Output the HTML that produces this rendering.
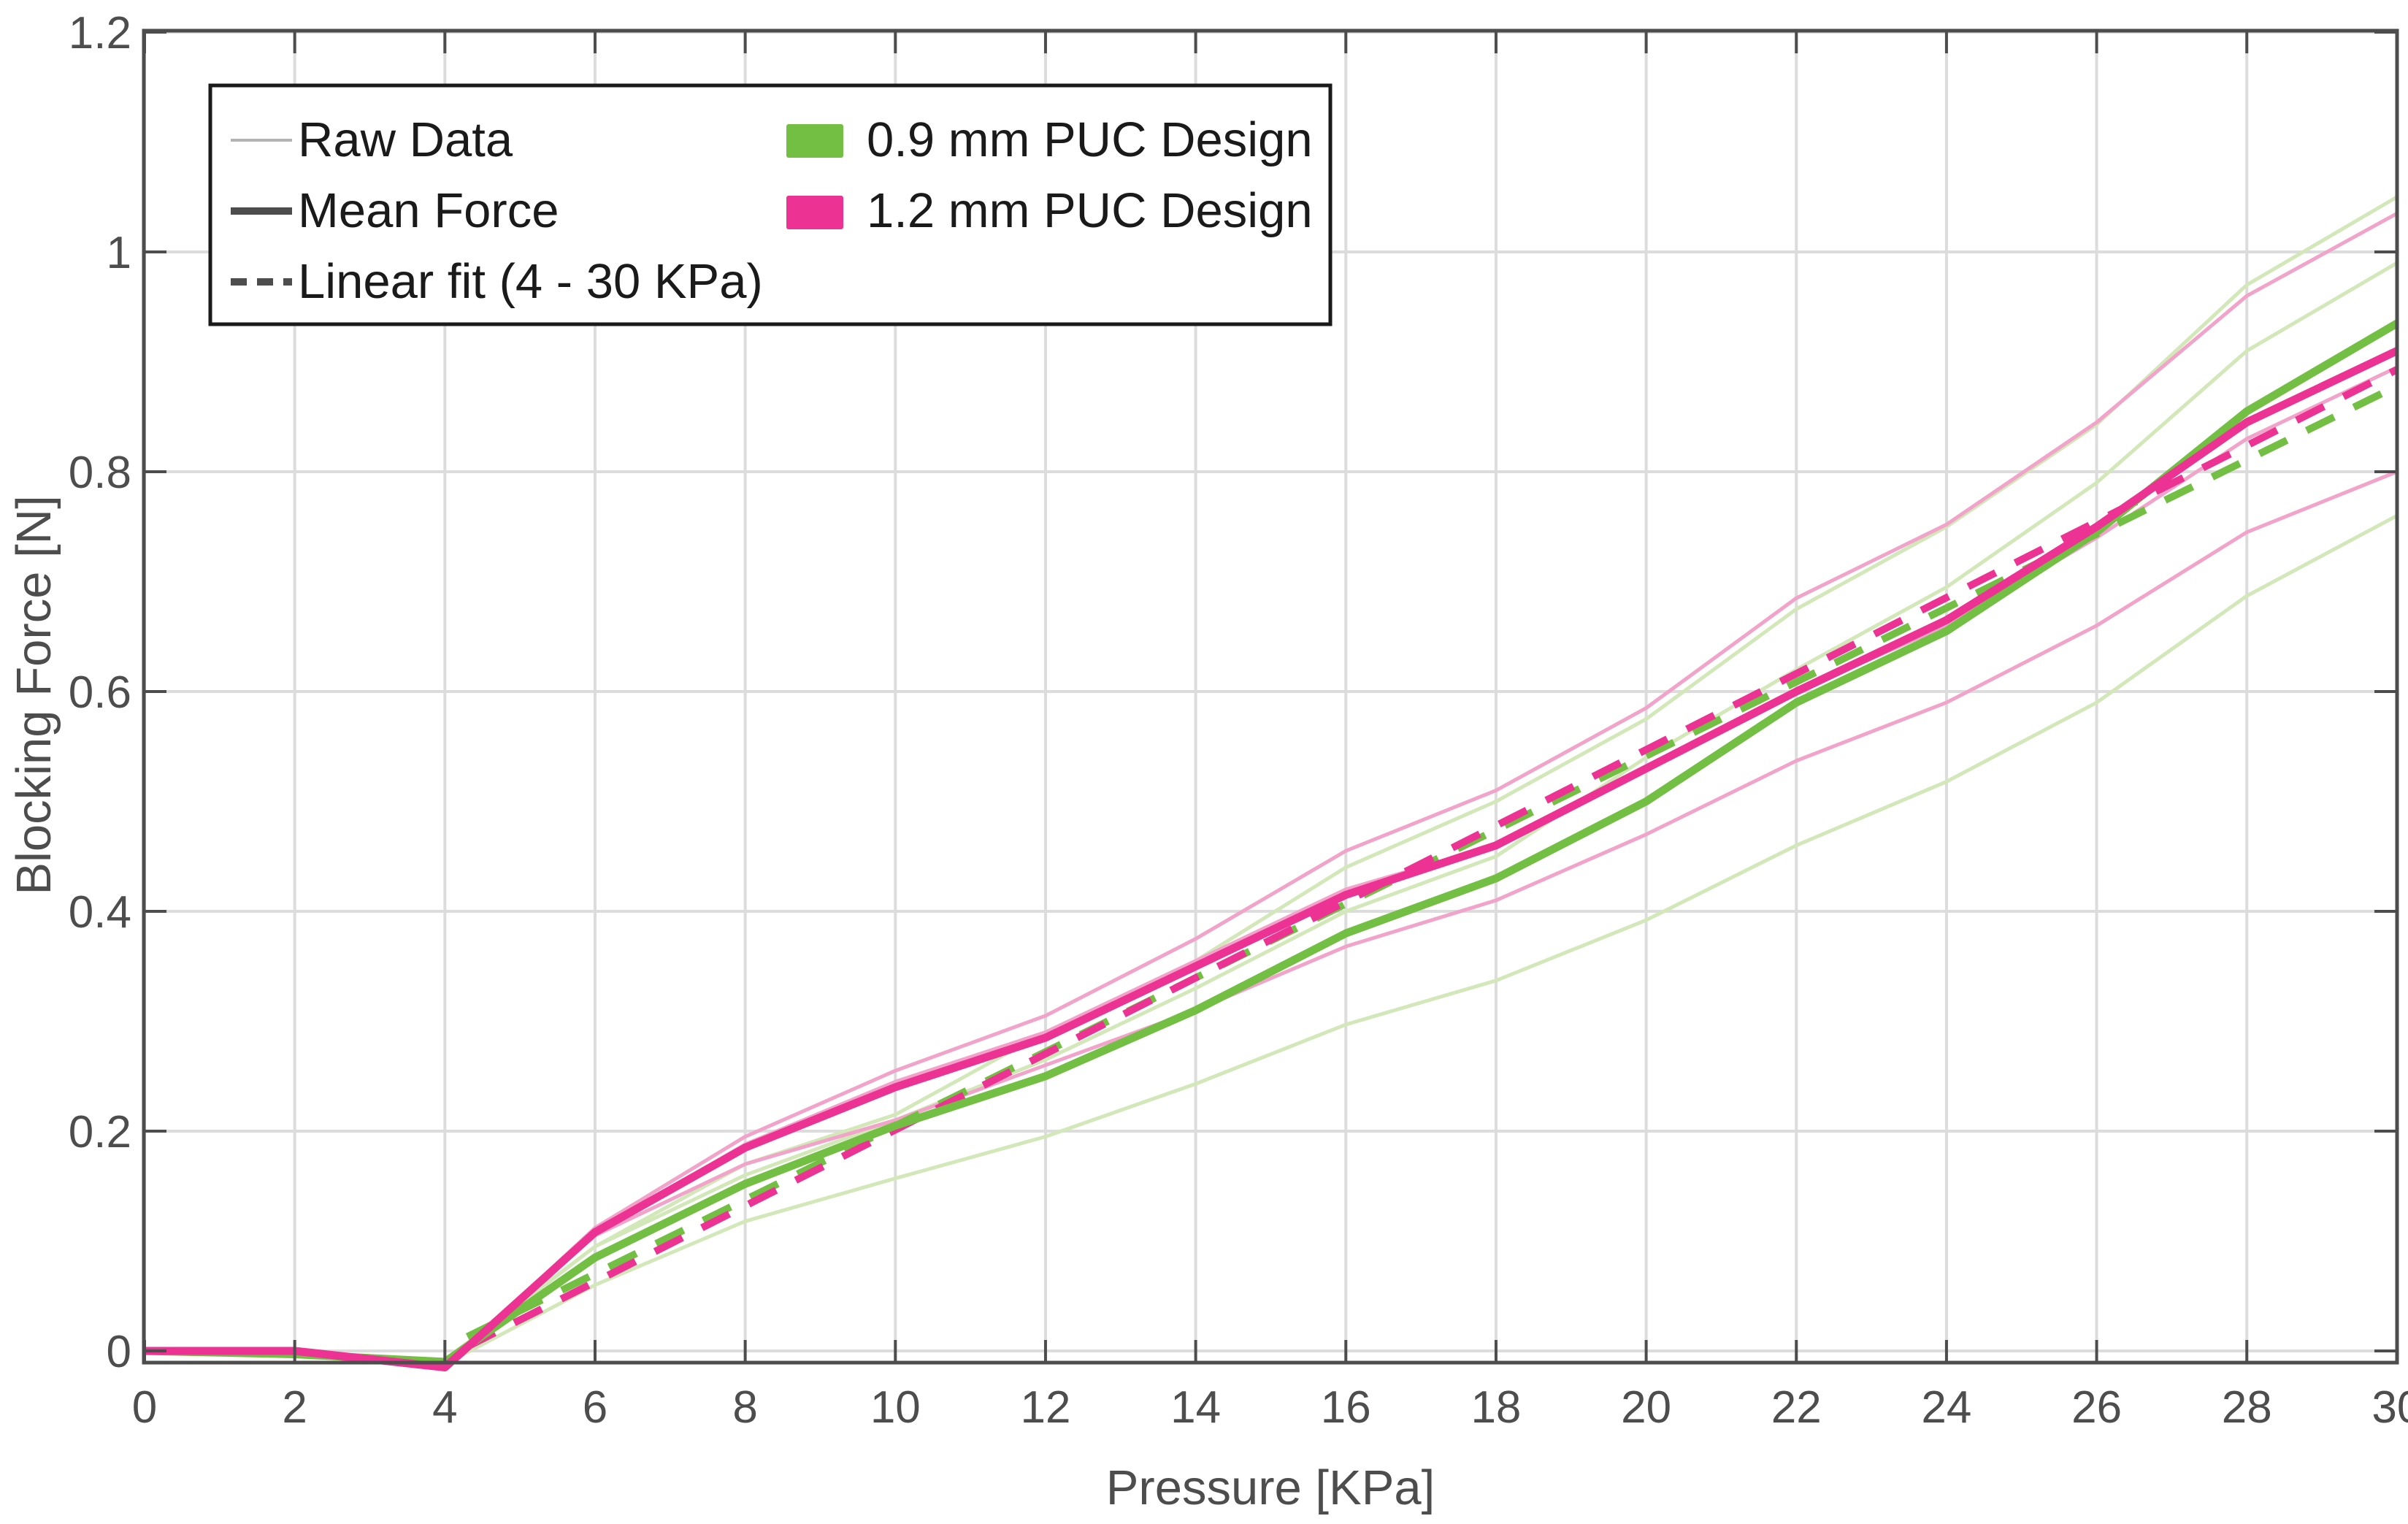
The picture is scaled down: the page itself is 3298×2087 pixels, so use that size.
<!DOCTYPE html>
<html><head><meta charset="utf-8"><style>
html,body{margin:0;padding:0;background:#fff;}
svg{display:block;font-family:"Liberation Sans",Arial,sans-serif;}
</style></head><body>
<svg id="chart" width="3298" height="2087" viewBox="0 0 3298 2087" xmlns="http://www.w3.org/2000/svg">
<rect x="0" y="0" width="3298" height="2087" fill="#fff"/>
<g id="grid"></g>
<g id="series"></g>
<g id="axes"></g>
<g id="legend">
<rect x="288" y="117" width="1534" height="327" fill="#fff" stroke="#1a1a1a" stroke-width="5"/>
<line x1="316" y1="192" x2="400" y2="192" stroke="#b3b3b3" stroke-width="4"/>
<text x="408" y="214" font-size="67" fill="#1a1a1a">Raw Data</text>
<line x1="316" y1="289" x2="400" y2="289" stroke="#4d4d4d" stroke-width="10"/>
<text x="408" y="311" font-size="67" fill="#1a1a1a">Mean Force</text>
<line x1="316" y1="386" x2="400" y2="386" stroke="#4d4d4d" stroke-width="10" stroke-dasharray="22,14"/>
<text x="408" y="408" font-size="67" fill="#1a1a1a">Linear fit (4 - 30 KPa)</text>
<rect x="1077" y="170" width="78" height="46" rx="3" fill="#72bf44"/>
<text x="1187" y="214" font-size="67" fill="#1a1a1a">0.9 mm PUC Design</text>
<rect x="1077" y="268" width="78" height="46" rx="3" fill="#ec3293"/>
<text x="1187" y="311" font-size="67" fill="#1a1a1a">1.2 mm PUC Design</text>
</g>
</svg>
<script>
const xVals = [0,2,4,6,8,10,12,14,16,18,20,22,24,26,28,30];
const greenRawA = [0,-0.002,-0.008,0.095,0.17,0.215,0.29,0.355,0.44,0.5,0.575,0.675,0.75,0.843,0.97,1.05];
const greenRawB = [0,-0.003,-0.01,0.095,0.16,0.21,0.265,0.33,0.4,0.45,0.54,0.62,0.695,0.79,0.91,0.99];
const greenRawC = [0,-0.005,-0.012,0.06,0.118,0.157,0.195,0.243,0.297,0.337,0.392,0.46,0.518,0.59,0.687,0.76];
const greenMean = [0,-0.003,-0.01,0.085,0.152,0.205,0.25,0.31,0.38,0.43,0.5,0.59,0.655,0.745,0.855,0.935];
const pinkRawA = [0,0,-0.015,0.112,0.195,0.255,0.305,0.375,0.455,0.51,0.585,0.685,0.752,0.845,0.96,1.035];
const pinkRawB = [0,0,-0.015,0.108,0.188,0.245,0.29,0.355,0.42,0.46,0.53,0.6,0.66,0.74,0.83,0.895];
const pinkRawC = [0,0,-0.015,0.105,0.17,0.21,0.26,0.31,0.368,0.41,0.47,0.537,0.59,0.66,0.745,0.8];
const pinkMean = [0,0,-0.015,0.108,0.185,0.24,0.285,0.35,0.415,0.46,0.53,0.6,0.665,0.75,0.845,0.91];
const fitX = [4.3,30];
const greenFit = [0.013,0.878];
const pinkFit = [0.004,0.893];
const xTicks = [0,2,4,6,8,10,12,14,16,18,20,22,24,26,28,30];
const yTicks = [0,0.2,0.4,0.6,0.8,1,1.2];
const yTickLabels = ["0","0.2","0.4","0.6","0.8","1","1.2"];

const NS="http://www.w3.org/2000/svg";
const L=197,R=3283,T=42,B=1866;
const X=v=>198+v*102.83;
const Y=v=>1850-v*1505;
function mk(tag,attrs,parent){const e=document.createElementNS(NS,tag);for(const k in attrs)e.setAttribute(k,attrs[k]);parent.appendChild(e);return e;}
const grid=document.getElementById('grid'),ser=document.getElementById('series'),ax=document.getElementById('axes');
xTicks.forEach(t=>{const g=mk('line',{x1:X(t),x2:X(t),y1:T,y2:B,stroke:'#dcdcdc','stroke-width':4},grid);

});
yTicks.forEach(t=>{const g=mk('line',{x1:L,x2:R,y1:Y(t),y2:Y(t),stroke:'#dcdcdc','stroke-width':4},grid);

});
function poly(xs,ys,color,w,dash,name){
  const pts=xs.map((x,i)=>X(x)+','+Y(ys[i])).join(' ');
  const p=mk('polyline',{points:pts,fill:'none',stroke:color,'stroke-width':w,'stroke-linejoin':'round'},ser);
  if(dash)p.setAttribute('stroke-dasharray',dash);
  
  
}
poly(xVals,greenRawA,'#d2e8b9',5,null,'green-raw-1');
poly(xVals,greenRawB,'#d2e8b9',5,null,'green-raw-2');
poly(xVals,greenRawC,'#d2e8b9',5,null,'green-raw-3');
poly(xVals,pinkRawA,'#f2a3c9',5,null,'pink-raw-1');
poly(xVals,pinkRawB,'#f2a3c9',5,null,'pink-raw-2');
poly(xVals,pinkRawC,'#f2a3c9',5,null,'pink-raw-3');
poly(fitX,greenFit,'#72bf44',10,'42,30','green-linear-fit');
poly(fitX,pinkFit,'#ec3293',10,'42,30','pink-linear-fit');
poly(xVals,greenMean,'#72bf44',11,null,'green-mean-force');
poly(xVals,pinkMean,'#ec3293',11,null,'pink-mean-force');
const box=mk('rect',{x:L,y:T,width:R-L,height:B-T,fill:'none',stroke:'#4d4d4d','stroke-width':5},ax);


xTicks.forEach((t,i)=>{
  mk('line',{x1:X(t),x2:X(t),y1:B,y2:B-31,stroke:'#4d4d4d','stroke-width':4},ax);
  mk('line',{x1:X(t),x2:X(t),y1:T,y2:T+31,stroke:'#4d4d4d','stroke-width':4},ax);
  const tx=mk('text',{x:X(t),y:1948,'font-size':62,fill:'#4d4d4d','text-anchor':'middle'},ax);
  tx.textContent=String(t);
  
  
});
yTicks.forEach((t,i)=>{
  mk('line',{x1:L,x2:L+31,y1:Y(t),y2:Y(t),stroke:'#4d4d4d','stroke-width':4},ax);
  mk('line',{x1:R,x2:R-31,y1:Y(t),y2:Y(t),stroke:'#4d4d4d','stroke-width':4},ax);
  const tx=mk('text',{x:180,y:Y(t)+22,'font-size':62,fill:'#4d4d4d','text-anchor':'end'},ax);
  tx.textContent=yTickLabels[i];
  
  
});
const xt=mk('text',{x:1740,y:2060,'font-size':67,fill:'#4d4d4d','text-anchor':'middle'},ax);
xt.textContent='Pressure [KPa]';


const yt=mk('text',{x:0,y:0,'font-size':67,fill:'#4d4d4d','text-anchor':'middle',transform:'translate(69,952) rotate(-90)'},ax);
yt.textContent='Blocking Force [N]';


</script>
</body></html>
